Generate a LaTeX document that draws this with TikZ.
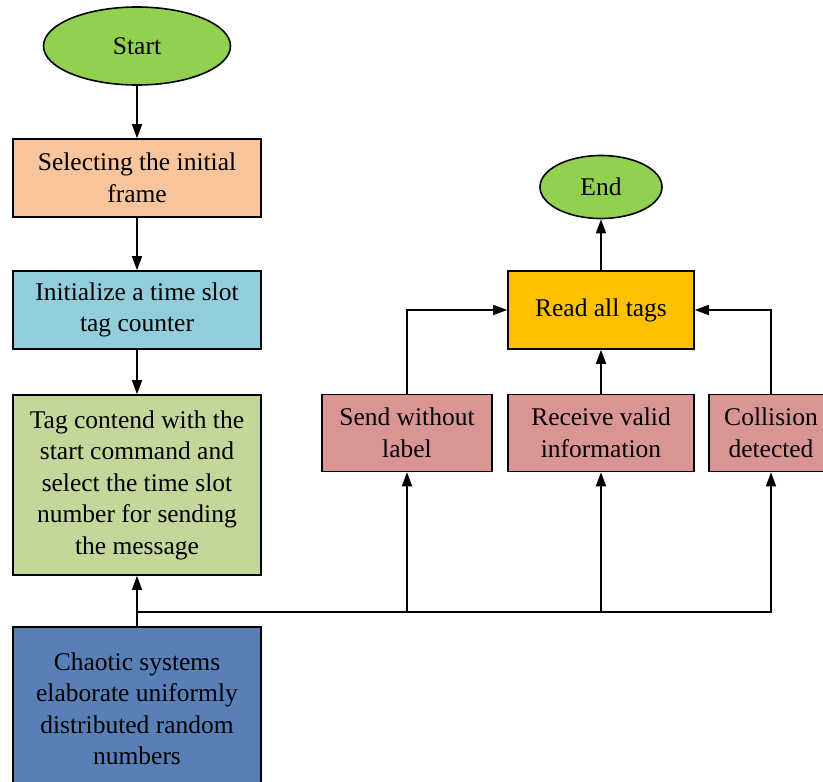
\documentclass[tikz,border=0pt]{standalone}
\usepackage{fontspec}
\setmainfont{Liberation Serif}
\usetikzlibrary{shapes.geometric,arrows.meta}
\definecolor{startgreen}{HTML}{92D050}
\definecolor{peach}{HTML}{F8C49B}
\definecolor{skyblue}{HTML}{92CDDC}
\definecolor{olivegreen}{HTML}{C4D79B}
\definecolor{steelblue}{HTML}{5880B7}
\definecolor{rosepink}{HTML}{D99594}
\definecolor{amber}{HTML}{FFC000}
\tikzset{
  txt/.style={font=\fontsize{25.5}{31.5}\selectfont, align=center, inner sep=0pt},
  terminal/.style={txt, ellipse, draw, line width=1.6pt, fill=startgreen},
  procbox/.style={txt, rectangle, draw, line width=1.6pt},
  arr/.style={line width=1.6pt, -{Triangle[length=14pt,width=10pt]}},
  wire/.style={line width=1.6pt}
}
\begin{document}
\begin{tikzpicture}[x=1pt,y=-1pt]
\useasboundingbox (0,0) rectangle (823,782);
\clip (0,0) rectangle (823,782);

% left column
\node[terminal, minimum width=187pt, minimum height=78pt] (start) at (137,46) {Start};
\node[procbox, fill=peach, minimum width=248pt, minimum height=78pt] (init) at (137,178) {Selecting the initial\\frame};
\node[procbox, fill=skyblue, minimum width=248pt, minimum height=78pt] (counter) at (137,310) {Initialize a time slot\\tag counter};
\node[procbox, fill=olivegreen, minimum width=248pt, minimum height=180pt] (tag) at (137,485) {Tag contend with the\\start command and\\select the time slot\\number for sending\\the message};
\node[procbox, fill=steelblue, minimum width=248pt, minimum height=164pt] (chaos) at (137,709) {Chaotic systems\\elaborate uniformly\\distributed random\\numbers};

% right part
\node[terminal, minimum width=122pt, minimum height=63pt] (end) at (601,187) {End};
\node[procbox, fill=amber, minimum width=186pt, minimum height=78pt] (read) at (601,310) {Read all tags};
\node[procbox, fill=rosepink, minimum width=170pt, minimum height=77pt] (send) at (407,433) {Send without\\label};
\node[procbox, fill=rosepink, minimum width=186pt, minimum height=77pt] (recv) at (601,433) {Receive valid\\information};
\node[procbox, fill=rosepink, minimum width=124pt, minimum height=77pt] (coll) at (771,433) {Collision\\detected};

% connectors
\draw[arr] (start) -- (init);
\draw[arr] (init) -- (counter);
\draw[arr] (counter) -- (tag);
\draw[arr] (chaos) -- (tag);
\coordinate (bus) at (137,612);
\draw[arr] (bus) -| (send.south);
\draw[arr] (bus) -| (recv.south);
\draw[arr] (bus) -| (coll.south);
\draw[arr] (send.north) |- (read.west);
\draw[arr] (coll.north) |- (read.east);
\draw[arr] (recv) -- (read);
\draw[arr] (read) -- (end);
\end{tikzpicture}
\end{document}
